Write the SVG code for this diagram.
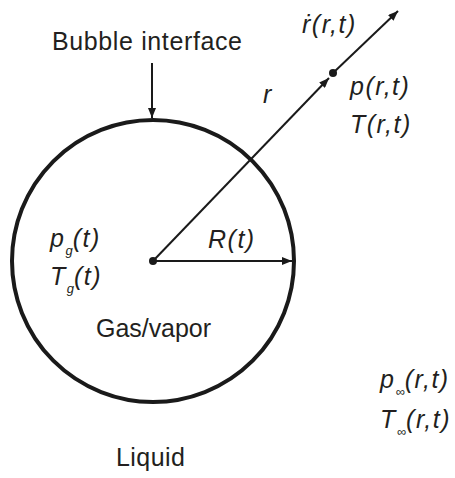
<svg xmlns="http://www.w3.org/2000/svg" width="455" height="478" viewBox="0 0 455 478">
<defs>
<marker id="ah" viewBox="0 0 10 8" refX="10" refY="4" markerWidth="10" markerHeight="8" markerUnits="userSpaceOnUse" orient="auto"><path d="M0,0 L10,4 L0,8 Z" fill="#1a1a1a"/></marker>
</defs>
<style>
text{font-family:"Liberation Sans",Arial,sans-serif;font-size:25px;fill:#231f20}
.m{font-style:italic;letter-spacing:1.5px}
.s{font-size:13px;letter-spacing:0}
.ln{stroke:#1a1a1a;stroke-width:2;fill:none}
</style>
<rect width="455" height="478" fill="#fff"/>
<g id="bubble">
<circle cx="153" cy="261" r="141" fill="none" stroke="#1a1a1a" stroke-width="4"/>
<circle cx="153" cy="261" r="4" fill="#1a1a1a"/>
</g>
<g id="connectors">
<line class="ln" x1="152" y1="63" x2="152" y2="118" marker-end="url(#ah)"/>
<line class="ln" x1="153" y1="261" x2="292" y2="261" marker-end="url(#ah)"/>
<line class="ln" x1="153" y1="261" x2="329" y2="78" marker-end="url(#ah)"/>
<line class="ln" x1="333" y1="73" x2="398" y2="11" marker-end="url(#ah)"/>
<circle cx="333" cy="73" r="4" fill="#1a1a1a"/>
</g>
<g id="labels">
<text x="52" y="50" textLength="190">Bubble interface</text>
<text class="m" x="263" y="103">r</text>
<text class="m" x="302" y="33">ṙ(r,t)</text>
<text class="m" x="350" y="95">p(r,t)</text>
<text class="m" x="350" y="133">T(r,t)</text>
<text class="m" x="208" y="248">R(t)</text>
<text class="m" x="50" y="247">p<tspan class="s" dy="8">g</tspan><tspan dy="-8">(t)</tspan></text>
<text class="m" x="50" y="285">T<tspan class="s" dy="8">g</tspan><tspan dy="-8">(t)</tspan></text>
<text x="96" y="337" textLength="115">Gas/vapor</text>
<text class="m" x="380" y="388">p<tspan class="s" dy="8">∞</tspan><tspan dy="-8">(r,t)</tspan></text>
<text class="m" x="380" y="428">T<tspan class="s" dy="8">∞</tspan><tspan dy="-8">(r,t)</tspan></text>
<text x="116" y="466" textLength="69">Liquid</text>
</g>
</svg>
